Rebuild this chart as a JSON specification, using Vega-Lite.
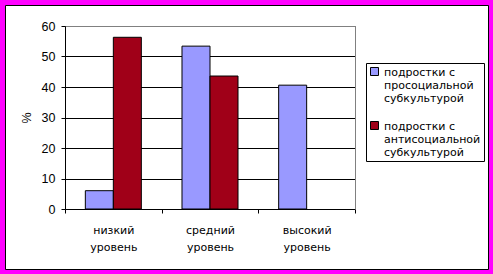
{
  "$schema": "https://vega.github.io/schema/vega-lite/v6.json",
  "width": 483,
  "height": 264,
  "padding": 5,
  "autosize": {"type": "none"},
  "background": "#FF00FF",
  "config": {
    "view": {"fill": "white", "stroke": "black", "strokeWidth": 1},
    "font": "Liberation Sans",
    "axis": {
      "labelFont": "Liberation Sans",
      "titleFont": "Liberation Sans",
      "labelColor": "black",
      "titleColor": "black",
      "domainColor": "black",
      "tickColor": "black",
      "gridColor": "black",
      "gridOpacity": 1,
      "domainWidth": 1,
      "tickWidth": 1,
      "gridWidth": 1
    }
  },
  "data": {
    "values": [
      {"level": "низкий уровень", "group": "подростки с просоциальной субкультурой", "value": 6},
      {"level": "низкий уровень", "group": "подростки с антисоциальной субкультурой", "value": 56.3},
      {"level": "средний уровень", "group": "подростки с просоциальной субкультурой", "value": 53.4},
      {"level": "средний уровень", "group": "подростки с антисоциальной субкультурой", "value": 43.6},
      {"level": "высокий уровень", "group": "подростки с просоциальной субкультурой", "value": 40.6}
    ]
  },
  "layer": [
    {
      "mark": {"type": "bar", "stroke": "black", "strokeWidth": 1},
      "encoding": {
        "x": {
          "field": "level",
          "type": "nominal",
          "sort": ["низкий уровень", "средний уровень", "высокий уровень"],
          "scale": {"range": [60, 350], "paddingInner": 0, "paddingOuter": 0},
          "axis": {
            "offset": -60,
            "title": null,
            "labelAngle": 0,
            "tickBand": "extent",
            "tickSize": 4,
            "labelFont": "DejaVu Sans",
            "labelFontSize": 11,
            "labelPadding": 11,
            "labelLineHeight": 17,
            "labelExpr": "split(datum.label, ' ')",
            "grid": false
          }
        },
        "xOffset": {
          "field": "group",
          "type": "nominal",
          "sort": ["подростки с просоциальной субкультурой", "подростки с антисоциальной субкультурой"],
          "scale": {"domain": ["подростки с просоциальной субкультурой", "подростки с антисоциальной субкультурой"], "paddingInner": 0, "paddingOuter": 0.726}
        },
        "y": {
          "field": "value",
          "type": "quantitative",
          "scale": {"domain": [0, 60], "range": [204, 21], "nice": false},
          "axis": {
            "offset": -60,
            "values": [0, 10, 20, 30, 40, 50, 60],
            "title": "%",
            "titleFontSize": 12.5,
            "titleFontWeight": "normal",
            "titlePadding": 8,
            "labelFontSize": 12.5,
            "tickSize": 4,
            "labelPadding": 6,
            "grid": true
          }
        },
        "color": {
          "field": "group",
          "type": "nominal",
          "scale": {
            "domain": ["подростки с просоциальной субкультурой", "подростки с антисоциальной субкультурой"],
            "range": ["#9999FF", "#A00018"]
          },
          "legend": {
            "orient": "none",
            "legendX": 361,
            "legendY": 58,
            "title": null,
            "strokeColor": "black",
            "fillColor": "white",
            "padding": 3,
            "symbolType": "square",
            "symbolSize": 64,
            "symbolStrokeColor": "black",
            "symbolStrokeWidth": 1,
            "symbolOpacity": 1,
            "labelFont": "DejaVu Sans",
            "labelFontSize": 11,
            "labelColor": "black",
            "labelLimit": 0,
            "labelOffset": 4,
            "labelBaseline": "top",
            "labelLineHeight": 15.5,
            "rowPadding": 15,
            "labelExpr": "datum.label == 'подростки с просоциальной субкультурой' ? ['подростки с', 'просоциальной', 'субкультурой'] : ['подростки с', 'антисоциальной', 'субкультурой']",
            "encode": {"labels": {"update": {"dy": {"value": -5}}}}
          }
        }
      }
    },
    {
      "mark": {"type": "bar", "opacity": 0},
      "encoding": {
        "x": {
          "field": "level",
          "type": "nominal",
          "sort": ["низкий уровень", "средний уровень", "высокий уровень"],
          "axis": {"orient": "top", "offset": -21, "labels": false, "ticks": false, "grid": false, "title": null, "domainColor": "#808080"}
        },
        "y": {
          "field": "value",
          "type": "quantitative",
          "axis": {"orient": "right", "offset": -133, "labels": false, "ticks": false, "grid": false, "title": null, "domainColor": "#808080"}
        }
      }
    }
  ],
  "resolve": {"axis": {"x": "independent", "y": "independent"}}
}
